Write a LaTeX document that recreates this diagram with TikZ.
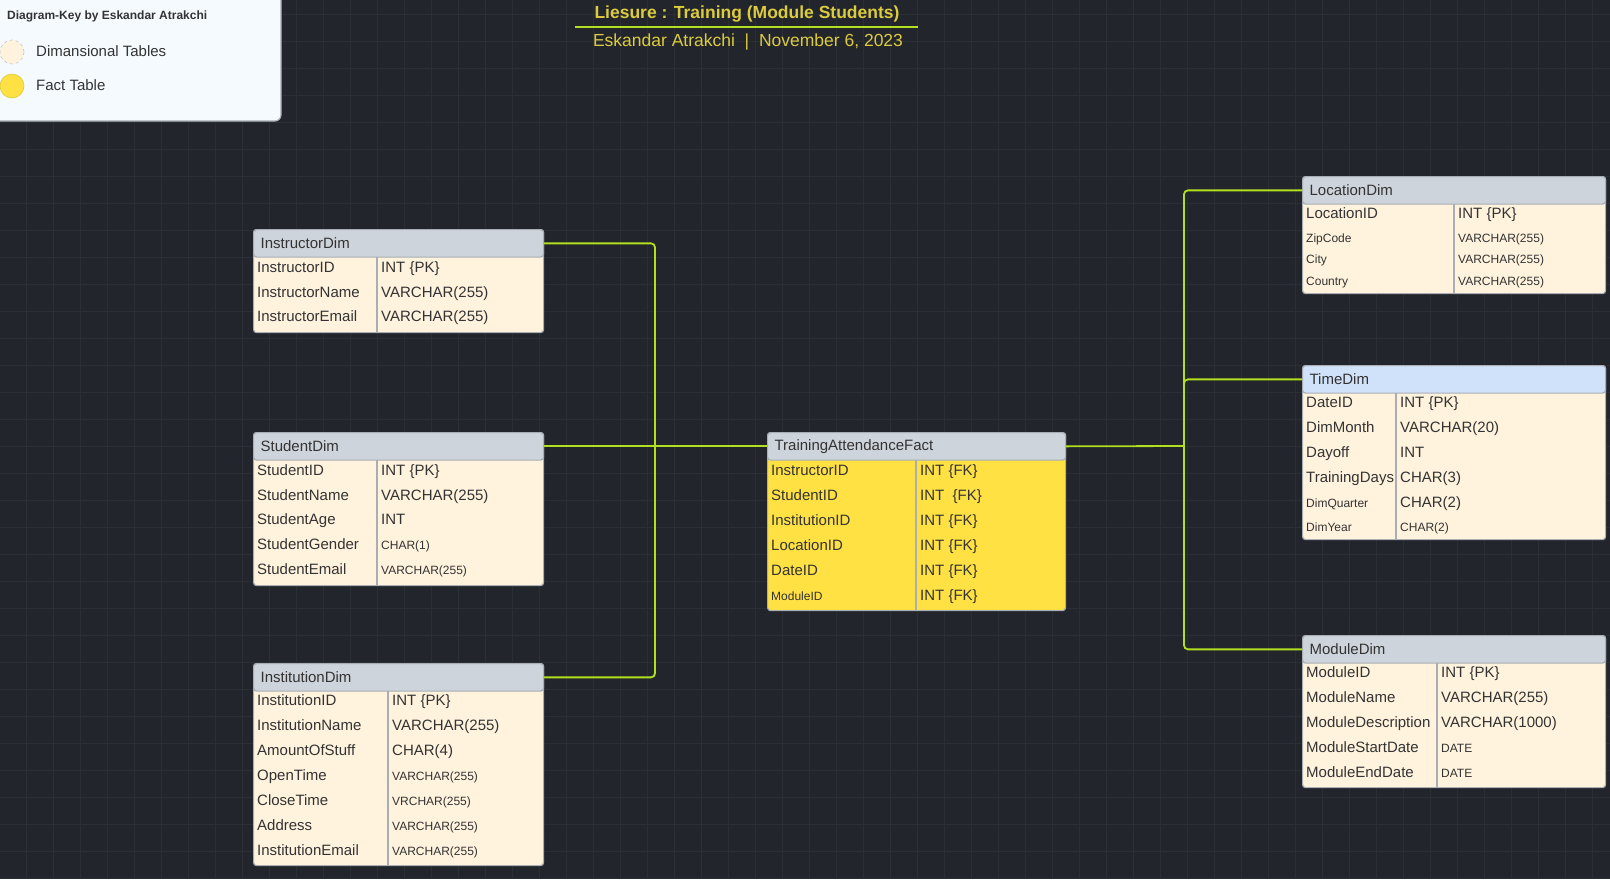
\documentclass[tikz,border=0pt]{standalone}
\usepackage{fontspec}
\setmainfont{Liberation Sans}
\usepackage{tikz}
\usepackage{xcolor}

\definecolor{canvas}{HTML}{22252B}
\definecolor{gridgray}{HTML}{2A2E35}
\definecolor{lime}{HTML}{B2DF1F}
\definecolor{dimfill}{HTML}{FFF3DD}
\definecolor{factfill}{HTML}{FFE143}
\definecolor{hdrgray}{HTML}{CED4DB}
\definecolor{hdrblue}{HTML}{CFE2FA}
\definecolor{edge}{HTML}{A9AEB5}
\definecolor{ink}{HTML}{333333}
\definecolor{gold}{HTML}{DCCB3E}
\definecolor{paleblue}{HTML}{F5FAFF}

\newcommand{\smtxt}{\fontsize{12}{14}\selectfont}

\begin{document}
\begin{tikzpicture}[x=1pt, y=-1pt,
  cell/.style={anchor=west, inner sep=0pt, text height=11pt, text depth=3pt, text=ink,
    font=\fontsize{15}{18}\selectfont},
  body/.style={anchor=north west, draw=edge, line width=1.2pt, rounded corners=3pt, inner sep=0pt},
  hdr/.style={anchor=north west, draw=edge, line width=1.2pt, rounded corners=3pt, fill=hdrgray,
    inner xsep=7pt, inner ysep=0pt, minimum height=27.5pt, align=left, text=ink,
    font=\fontsize{15}{18}\selectfont},
  divider/.style={draw=edge, line width=1.2pt},
  link/.style={draw=lime, line width=1.8pt, rounded corners=4pt}]
\useasboundingbox (0,0) rectangle (1610,879);

% Draw the canvas and its grid
\fill[canvas] (0,0) rectangle (1610,879);
\foreach \gx in {26,53,...,1610} \draw[gridgray, line width=0.8pt] (\gx,0) -- (\gx,879);
\foreach \gy in {14,41,...,879} \draw[gridgray, line width=0.8pt] (0,\gy) -- (1610,\gy);

% Draw the key
\draw[draw=edge, fill=paleblue, line width=1.2pt, rounded corners=6pt] (-8,-8) rectangle (281,121);
\node[anchor=west, inner sep=0pt, text=ink, font=\bfseries\fontsize{12}{14}\selectfont] (keyttl) at (7,16) {Diagram-Key by Eskandar Atrakchi};
\node[circle, minimum size=24pt, inner sep=0pt, fill=dimfill, draw=edge!70, dashed, line width=0.6pt] (keydim) at (12,52) {};
\node[circle, minimum size=24pt, inner sep=0pt, fill=factfill, draw=gold, line width=0.6pt] (keyfact) at (12,86) {};
\node[cell] (keydimtxt) at (36,52) {Dimansional Tables};
\node[cell] (keyfacttxt) at (36,86) {Fact Table};

% Title
\node[inner sep=0pt, text=gold, font=\bfseries\fontsize{17.5}{20}\selectfont] (ttl) at (747,14) {Liesure : Training (Module Students)};
\draw[lime, line width=2pt] (575,27) -- (918,27);
\node[inner sep=0pt, text=gold, font=\fontsize{17.5}{20}\selectfont] (sub) at (748,42) {Eskandar Atrakchi\ \ |\ \ November 6, 2023};

% InstructorDim
\node[body, fill=dimfill, minimum width=290pt, minimum height=103pt] (instr) at (253,229) {};
\node[hdr, text width=276pt] (instr-h) at (253,229) {InstructorDim};
\draw[divider] (377,256.5) -- (377,332);
\foreach \y/\k/\t [count=\i] in {268/InstructorID/INT \{PK\}, 293/InstructorName/VARCHAR(255), 317/InstructorEmail/VARCHAR(255)} {
  \node[cell] (instr-k\i) at (257,\y) {\k};
  \node[cell] (instr-t\i) at (381,\y) {\t};
}

% StudentDim
\node[body, fill=dimfill, minimum width=290pt, minimum height=153pt] (stud) at (253,432) {};
\node[hdr, text width=276pt] (stud-h) at (253,432) {StudentDim};
\draw[divider] (377,459.5) -- (377,585);
\foreach \y/\k/\t [count=\i] in {471/StudentID/INT \{PK\}, 496/StudentName/VARCHAR(255), 520/StudentAge/INT,
    545/StudentGender/{\smtxt CHAR(1)}, 570/StudentEmail/{\smtxt VARCHAR(255)}} {
  \node[cell] (stud-k\i) at (257,\y) {\k};
  \node[cell] (stud-t\i) at (381,\y) {\t};
}

% InstitutionDim
\node[body, fill=dimfill, minimum width=290pt, minimum height=202pt] (inst) at (253,663) {};
\node[hdr, text width=276pt] (inst-h) at (253,663) {InstitutionDim};
\draw[divider] (388,690.5) -- (388,865);
\foreach \y/\k/\t [count=\i] in {701/InstitutionID/INT \{PK\}, 726/InstitutionName/VARCHAR(255), 751/AmountOfStuff/CHAR(4),
    776/OpenTime/{\smtxt VARCHAR(255)}, 801/CloseTime/{\smtxt VRCHAR(255)}, 826/Address/{\smtxt VARCHAR(255)},
    851/InstitutionEmail/{\smtxt VARCHAR(255)}} {
  \node[cell] (inst-k\i) at (257,\y) {\k};
  \node[cell] (inst-t\i) at (392,\y) {\t};
}

% TrainingAttendanceFact
\node[body, fill=factfill, minimum width=298pt, minimum height=178pt] (fact) at (767,432) {};
\node[hdr, text width=284pt] (fact-h) at (767,432) {TrainingAttendanceFact};
\draw[divider] (916,459.5) -- (916,610);
\foreach \y/\k/\t [count=\i] in {471/InstructorID/INT \{FK\}, 496/StudentID/INT\ \ \{FK\}, 521/InstitutionID/INT \{FK\},
    546/LocationID/INT \{FK\}, 571/DateID/INT \{FK\}, 596/{\smtxt ModuleID}/INT \{FK\}} {
  \node[cell] (fact-k\i) at (771,\y) {\k};
  \node[cell] (fact-t\i) at (920,\y) {\t};
}

% LocationDim
\node[body, fill=dimfill, minimum width=303pt, minimum height=117pt] (loc) at (1302,176) {};
\node[hdr, text width=289pt] (loc-h) at (1302,176) {LocationDim};
\draw[divider] (1454,203.5) -- (1454,293);
\foreach \y/\k/\t [count=\i] in {214/LocationID/INT \{PK\}, 238/{\smtxt ZipCode}/{\smtxt VARCHAR(255)},
    259/{\smtxt City}/{\smtxt VARCHAR(255)}, 281/{\smtxt Country}/{\smtxt VARCHAR(255)}} {
  \node[cell] (loc-k\i) at (1306,\y) {\k};
  \node[cell] (loc-t\i) at (1458,\y) {\t};
}

% TimeDim
\node[body, fill=dimfill, minimum width=303pt, minimum height=174pt] (time) at (1302,365) {};
\node[hdr, fill=hdrblue, text width=289pt] (time-h) at (1302,365) {TimeDim};
\draw[divider] (1396,392.5) -- (1396,539);
\foreach \y/\k/\t [count=\i] in {403/DateID/INT \{PK\}, 428/DimMonth/VARCHAR(20), 453/Dayoff/INT,
    478/TrainingDays/CHAR(3), 503/{\smtxt DimQuarter}/CHAR(2), 527/{\smtxt DimYear}/{\smtxt CHAR(2)}} {
  \node[cell] (time-k\i) at (1306,\y) {\k};
  \node[cell] (time-t\i) at (1400,\y) {\t};
}

% ModuleDim
\node[body, fill=dimfill, minimum width=303pt, minimum height=152pt] (mod) at (1302,635) {};
\node[hdr, text width=289pt] (mod-h) at (1302,635) {ModuleDim};
\draw[divider] (1437,662.5) -- (1437,787);
\foreach \y/\k/\t [count=\i] in {673/ModuleID/INT \{PK\}, 698/ModuleName/VARCHAR(255), 723/ModuleDescription/VARCHAR(1000),
    748/ModuleStartDate/{\smtxt DATE}, 773/ModuleEndDate/{\smtxt DATE}} {
  \node[cell] (mod-k\i) at (1306,\y) {\k};
  \node[cell] (mod-t\i) at (1441,\y) {\t};
}

% Draw the links
\coordinate (ljoin) at (655,446);
\coordinate (rjoin) at (1184,446);
\draw[link] (instr-h.east) -| (ljoin) |- (inst-h.east);
\draw[link] (stud-h.east) -- (fact-h.west);
\draw[link] (loc-h.west) -| (rjoin) |- (mod-h.west);
\draw[link] (time-h.west) -| (rjoin);
\draw[link] (fact-h.east) -- (rjoin);
\end{tikzpicture}
\end{document}
